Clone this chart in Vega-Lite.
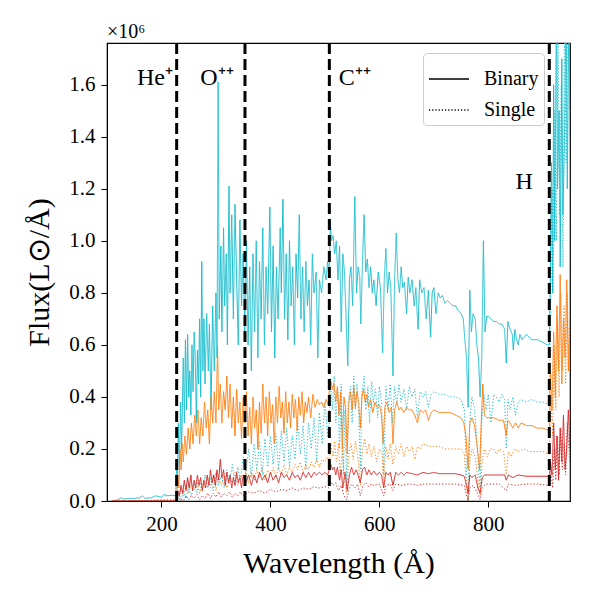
{
  "$schema": "https://vega.github.io/schema/vega-lite/v6.json",
  "width": 463,
  "height": 458,
  "autosize": "none",
  "padding": {"left": 107, "top": 43, "right": 30, "bottom": 99},
  "background": "white",
  "config": {
    "font": "Liberation Serif",
    "view": {"stroke": "black", "strokeWidth": 1.2},
    "axis": {"grid": false, "domainColor": "black", "tickColor": "black", "labelColor": "black", "titleColor": "black", "titleFontWeight": "normal", "labelFontSize": 21, "titleFontSize": 30, "tickSize": 6, "labelPadding": 6, "labelFont": "Liberation Serif", "titleFont": "Liberation Serif"}
  },
  "datasets": {
    "spec": [
      {"c":"A","t":"Binary","w":110,"f":0.0},{"c":"A","t":"Binary","w":120,"f":0.005},{"c":"A","t":"Binary","w":125,"f":0.012},{"c":"A","t":"Binary","w":130,"f":0.008},{"c":"A","t":"Binary","w":140,"f":0.01},{"c":"A","t":"Binary","w":150,"f":0.01},{"c":"A","t":"Binary","w":160,"f":0.012},{"c":"A","t":"Binary","w":165,"f":0.02},{"c":"A","t":"Binary","w":170,"f":0.01},{"c":"A","t":"Binary","w":180,"f":0.012},{"c":"A","t":"Binary","w":190,"f":0.02},{"c":"A","t":"Binary","w":200,"f":0.015},{"c":"A","t":"Binary","w":205,"f":0.025},{"c":"A","t":"Binary","w":210,"f":0.02},{"c":"A","t":"Binary","w":220,"f":0.022},{"c":"A","t":"Binary","w":226,"f":0.02},
      {"c":"A","t":"Binary","w":228,"f":0.15},{"c":"A","t":"Binary","w":229,"f":0.05},{"c":"A","t":"Binary","w":231,"f":0.3},{"c":"A","t":"Binary","w":233,"f":0.12},{"c":"A","t":"Binary","w":235,"f":0.38},{"c":"A","t":"Binary","w":237,"f":0.2},{"c":"A","t":"Binary","w":240,"f":0.55},{"c":"A","t":"Binary","w":242,"f":0.3},{"c":"A","t":"Binary","w":244,"f":0.62},{"c":"A","t":"Binary","w":246,"f":0.35},{"c":"A","t":"Binary","w":248,"f":0.64},{"c":"A","t":"Binary","w":250,"f":0.4},{"c":"A","t":"Binary","w":252,"f":0.5},{"c":"A","t":"Binary","w":254,"f":0.33},{"c":"A","t":"Binary","w":256,"f":0.6},{"c":"A","t":"Binary","w":258,"f":0.42},{"c":"A","t":"Binary","w":260,"f":0.65},{"c":"A","t":"Binary","w":262,"f":0.55},{"c":"A","t":"Binary","w":264,"f":0.3},{"c":"A","t":"Binary","w":266,"f":0.58},{"c":"A","t":"Binary","w":268,"f":0.45},{"c":"A","t":"Binary","w":270,"f":0.7},{"c":"A","t":"Binary","w":272,"f":0.4},{"c":"A","t":"Binary","w":274,"f":0.92},{"c":"A","t":"Binary","w":276,"f":0.5},{"c":"A","t":"Binary","w":278,"f":0.7},{"c":"A","t":"Binary","w":280,"f":0.45},{"c":"A","t":"Binary","w":283,"f":0.72},{"c":"A","t":"Binary","w":286,"f":0.5},{"c":"A","t":"Binary","w":288,"f":0.68},{"c":"A","t":"Binary","w":291,"f":0.35},{"c":"A","t":"Binary","w":294,"f":0.75},{"c":"A","t":"Binary","w":297,"f":0.5},{"c":"A","t":"Binary","w":300,"f":0.8},{"c":"A","t":"Binary","w":302,"f":0.55},{"c":"A","t":"Binary","w":304,"f":1.61},{"c":"A","t":"Binary","w":306,"f":0.7},{"c":"A","t":"Binary","w":309,"f":0.98},{"c":"A","t":"Binary","w":311,"f":0.65},{"c":"A","t":"Binary","w":314,"f":1.05},{"c":"A","t":"Binary","w":316,"f":0.75},{"c":"A","t":"Binary","w":319,"f":0.95},{"c":"A","t":"Binary","w":321,"f":0.6},{"c":"A","t":"Binary","w":324,"f":1.21},{"c":"A","t":"Binary","w":326,"f":0.8},{"c":"A","t":"Binary","w":329,"f":1.1},{"c":"A","t":"Binary","w":332,"f":0.7},{"c":"A","t":"Binary","w":335,"f":1.14},{"c":"A","t":"Binary","w":338,"f":0.85},{"c":"A","t":"Binary","w":341,"f":0.6},{"c":"A","t":"Binary","w":344,"f":1.08},{"c":"A","t":"Binary","w":347,"f":0.75},{"c":"A","t":"Binary","w":350,"f":0.95},{"c":"A","t":"Binary","w":353,"f":0.65},{"c":"A","t":"Binary","w":356,"f":1.0},{"c":"A","t":"Binary","w":359,"f":0.6},{"c":"A","t":"Binary","w":362,"f":0.9},{"c":"A","t":"Binary","w":365,"f":0.5},{"c":"A","t":"Binary","w":368,"f":0.95},{"c":"A","t":"Binary","w":371,"f":0.65},{"c":"A","t":"Binary","w":374,"f":1.0},{"c":"A","t":"Binary","w":377,"f":0.55},{"c":"A","t":"Binary","w":380,"f":0.92},{"c":"A","t":"Binary","w":383,"f":0.7},{"c":"A","t":"Binary","w":386,"f":1.05},{"c":"A","t":"Binary","w":389,"f":0.6},{"c":"A","t":"Binary","w":392,"f":0.9},{"c":"A","t":"Binary","w":395,"f":0.72},{"c":"A","t":"Binary","w":399,"f":1.13},{"c":"A","t":"Binary","w":402,"f":0.65},{"c":"A","t":"Binary","w":405,"f":0.98},{"c":"A","t":"Binary","w":408,"f":0.55},{"c":"A","t":"Binary","w":411,"f":0.9},{"c":"A","t":"Binary","w":414,"f":0.7},{"c":"A","t":"Binary","w":418,"f":1.05},{"c":"A","t":"Binary","w":420,"f":0.8},{"c":"A","t":"Binary","w":423,"f":1.16},{"c":"A","t":"Binary","w":426,"f":0.7},{"c":"A","t":"Binary","w":429,"f":0.95},{"c":"A","t":"Binary","w":432,"f":0.62},{"c":"A","t":"Binary","w":435,"f":1.0},{"c":"A","t":"Binary","w":438,"f":0.75},{"c":"A","t":"Binary","w":441,"f":0.9},{"c":"A","t":"Binary","w":444,"f":0.6},{"c":"A","t":"Binary","w":447,"f":0.95},{"c":"A","t":"Binary","w":450,"f":0.78},{"c":"A","t":"Binary","w":453,"f":1.1},{"c":"A","t":"Binary","w":456,"f":0.7},{"c":"A","t":"Binary","w":459,"f":0.9},{"c":"A","t":"Binary","w":462,"f":0.65},{"c":"A","t":"Binary","w":465,"f":0.92},{"c":"A","t":"Binary","w":468,"f":0.75},{"c":"A","t":"Binary","w":471,"f":0.85},{"c":"A","t":"Binary","w":474,"f":0.6},{"c":"A","t":"Binary","w":477,"f":0.95},{"c":"A","t":"Binary","w":480,"f":0.8},{"c":"A","t":"Binary","w":484,"f":0.88},{"c":"A","t":"Binary","w":487,"f":0.55},{"c":"A","t":"Binary","w":490,"f":0.85},{"c":"A","t":"Binary","w":494,"f":0.8},{"c":"A","t":"Binary","w":498,"f":0.9},{"c":"A","t":"Binary","w":502,"f":0.85},{"c":"A","t":"Binary","w":505,"f":0.92},{"c":"A","t":"Binary","w":508,"f":0.88},{"c":"A","t":"Binary","w":510,"f":1.08},{"c":"A","t":"Binary","w":512,"f":1.0},{"c":"A","t":"Binary","w":515,"f":1.02},{"c":"A","t":"Binary","w":518,"f":0.95},{"c":"A","t":"Binary","w":521,"f":1.0},{"c":"A","t":"Binary","w":524,"f":0.85},{"c":"A","t":"Binary","w":527,"f":0.98},{"c":"A","t":"Binary","w":530,"f":0.65},{"c":"A","t":"Binary","w":533,"f":0.95},{"c":"A","t":"Binary","w":536,"f":0.88},{"c":"A","t":"Binary","w":539,"f":0.7},{"c":"A","t":"Binary","w":542,"f":0.52},{"c":"A","t":"Binary","w":545,"f":0.85},{"c":"A","t":"Binary","w":548,"f":0.9},{"c":"A","t":"Binary","w":551,"f":0.75},{"c":"A","t":"Binary","w":555,"f":1.17},{"c":"A","t":"Binary","w":558,"f":0.8},{"c":"A","t":"Binary","w":561,"f":0.9},{"c":"A","t":"Binary","w":564,"f":0.86},{"c":"A","t":"Binary","w":566,"f":0.68},{"c":"A","t":"Binary","w":569,"f":0.92},{"c":"A","t":"Binary","w":572,"f":1.1},{"c":"A","t":"Binary","w":575,"f":0.88},{"c":"A","t":"Binary","w":578,"f":0.93},{"c":"A","t":"Binary","w":581,"f":0.82},{"c":"A","t":"Binary","w":584,"f":0.9},{"c":"A","t":"Binary","w":587,"f":0.8},{"c":"A","t":"Binary","w":590,"f":0.85},{"c":"A","t":"Binary","w":594,"f":0.75},{"c":"A","t":"Binary","w":598,"f":0.88},{"c":"A","t":"Binary","w":602,"f":0.82},{"c":"A","t":"Binary","w":606,"f":0.57},{"c":"A","t":"Binary","w":609,"f":0.85},{"c":"A","t":"Binary","w":612,"f":0.97},{"c":"A","t":"Binary","w":615,"f":0.8},{"c":"A","t":"Binary","w":618,"f":0.88},{"c":"A","t":"Binary","w":621,"f":0.82},{"c":"A","t":"Binary","w":625,"f":0.48},{"c":"A","t":"Binary","w":628,"f":0.85},{"c":"A","t":"Binary","w":631,"f":1.03},{"c":"A","t":"Binary","w":634,"f":0.85},{"c":"A","t":"Binary","w":637,"f":0.8},{"c":"A","t":"Binary","w":640,"f":0.9},{"c":"A","t":"Binary","w":643,"f":0.82},{"c":"A","t":"Binary","w":646,"f":0.84},{"c":"A","t":"Binary","w":650,"f":0.72},{"c":"A","t":"Binary","w":653,"f":0.86},{"c":"A","t":"Binary","w":656,"f":0.8},{"c":"A","t":"Binary","w":660,"f":0.85},{"c":"A","t":"Binary","w":664,"f":0.75},{"c":"A","t":"Binary","w":667,"f":0.82},{"c":"A","t":"Binary","w":671,"f":0.66},{"c":"A","t":"Binary","w":674,"f":0.85},{"c":"A","t":"Binary","w":678,"f":0.8},{"c":"A","t":"Binary","w":682,"f":0.82},{"c":"A","t":"Binary","w":686,"f":0.7},{"c":"A","t":"Binary","w":690,"f":0.81},{"c":"A","t":"Binary","w":694,"f":0.63},{"c":"A","t":"Binary","w":697,"f":0.8},{"c":"A","t":"Binary","w":700,"f":0.82},{"c":"A","t":"Binary","w":704,"f":0.72},{"c":"A","t":"Binary","w":708,"f":0.8},{"c":"A","t":"Binary","w":712,"f":0.78},{"c":"A","t":"Binary","w":716,"f":0.79},{"c":"A","t":"Binary","w":720,"f":0.76},{"c":"A","t":"Binary","w":725,"f":0.77},{"c":"A","t":"Binary","w":730,"f":0.76},{"c":"A","t":"Binary","w":735,"f":0.75},{"c":"A","t":"Binary","w":740,"f":0.75},{"c":"A","t":"Binary","w":745,"f":0.73},{"c":"A","t":"Binary","w":750,"f":0.72},{"c":"A","t":"Binary","w":754,"f":0.7},{"c":"A","t":"Binary","w":757,"f":0.62},{"c":"A","t":"Binary","w":760,"f":0.55},{"c":"A","t":"Binary","w":763,"f":0.36},{"c":"A","t":"Binary","w":766,"f":0.81},{"c":"A","t":"Binary","w":769,"f":0.65},{"c":"A","t":"Binary","w":772,"f":0.72},{"c":"A","t":"Binary","w":776,"f":0.7},{"c":"A","t":"Binary","w":779,"f":0.6},{"c":"A","t":"Binary","w":782,"f":0.55},{"c":"A","t":"Binary","w":785,"f":0.4},{"c":"A","t":"Binary","w":788,"f":0.55},{"c":"A","t":"Binary","w":791,"f":1.0},{"c":"A","t":"Binary","w":794,"f":0.65},{"c":"A","t":"Binary","w":797,"f":0.71},{"c":"A","t":"Binary","w":800,"f":0.71},{"c":"A","t":"Binary","w":805,"f":0.7},{"c":"A","t":"Binary","w":810,"f":0.69},{"c":"A","t":"Binary","w":815,"f":0.69},{"c":"A","t":"Binary","w":820,"f":0.68},{"c":"A","t":"Binary","w":825,"f":0.68},{"c":"A","t":"Binary","w":830,"f":0.66},{"c":"A","t":"Binary","w":833,"f":0.53},{"c":"A","t":"Binary","w":836,"f":0.69},{"c":"A","t":"Binary","w":840,"f":0.66},{"c":"A","t":"Binary","w":844,"f":0.64},{"c":"A","t":"Binary","w":846,"f":0.58},{"c":"A","t":"Binary","w":849,"f":0.66},{"c":"A","t":"Binary","w":852,"f":0.62},{"c":"A","t":"Binary","w":855,"f":0.6},{"c":"A","t":"Binary","w":858,"f":0.64},{"c":"A","t":"Binary","w":862,"f":0.62},{"c":"A","t":"Binary","w":866,"f":0.63},{"c":"A","t":"Binary","w":870,"f":0.64},{"c":"A","t":"Binary","w":875,"f":0.63},{"c":"A","t":"Binary","w":880,"f":0.62},{"c":"A","t":"Binary","w":890,"f":0.62},{"c":"A","t":"Binary","w":900,"f":0.61},{"c":"A","t":"Binary","w":908,"f":0.6},{"c":"A","t":"Binary","w":912,"f":0.6},{"c":"A","t":"Binary","w":914,"f":0.9},{"c":"A","t":"Binary","w":916,"f":1.3},{"c":"A","t":"Binary","w":918,"f":0.8},{"c":"A","t":"Binary","w":920,"f":1.6},{"c":"A","t":"Binary","w":922,"f":1.0},{"c":"A","t":"Binary","w":925,"f":1.9},{"c":"A","t":"Binary","w":927,"f":1.2},{"c":"A","t":"Binary","w":930,"f":1.5},{"c":"A","t":"Binary","w":932,"f":0.9},{"c":"A","t":"Binary","w":935,"f":1.7},{"c":"A","t":"Binary","w":937,"f":1.1},{"c":"A","t":"Binary","w":940,"f":1.4},{"c":"A","t":"Binary","w":943,"f":1.9},{"c":"A","t":"Binary","w":945,"f":1.2},{"c":"A","t":"Binary","w":948,"f":1.9},{"c":"A","t":"Binary","w":950,"f":1.5},

      {"c":"A","t":"Single","w":110,"f":0.0},{"c":"A","t":"Single","w":150,"f":0.0},{"c":"A","t":"Single","w":200,"f":0.005},{"c":"A","t":"Single","w":226,"f":0.005},{"c":"A","t":"Single","w":228,"f":0.01},{"c":"A","t":"Single","w":232,"f":0.03},{"c":"A","t":"Single","w":236,"f":0.0},{"c":"A","t":"Single","w":240,"f":0.04},{"c":"A","t":"Single","w":245,"f":0.01},{"c":"A","t":"Single","w":250,"f":0.05},{"c":"A","t":"Single","w":255,"f":0.02},{"c":"A","t":"Single","w":260,"f":0.07},{"c":"A","t":"Single","w":265,"f":0.03},{"c":"A","t":"Single","w":270,"f":0.08},{"c":"A","t":"Single","w":275,"f":0.04},{"c":"A","t":"Single","w":280,"f":0.1},{"c":"A","t":"Single","w":285,"f":0.05},{"c":"A","t":"Single","w":290,"f":0.09},{"c":"A","t":"Single","w":295,"f":0.04},{"c":"A","t":"Single","w":300,"f":0.11},{"c":"A","t":"Single","w":305,"f":0.06},{"c":"A","t":"Single","w":310,"f":0.1},{"c":"A","t":"Single","w":315,"f":0.05},{"c":"A","t":"Single","w":320,"f":0.12},{"c":"A","t":"Single","w":325,"f":0.07},{"c":"A","t":"Single","w":330,"f":0.14},{"c":"A","t":"Single","w":335,"f":0.06},{"c":"A","t":"Single","w":340,"f":0.13},{"c":"A","t":"Single","w":345,"f":0.08},{"c":"A","t":"Single","w":350,"f":0.17},{"c":"A","t":"Single","w":355,"f":0.1},{"c":"A","t":"Single","w":360,"f":0.2},{"c":"A","t":"Single","w":365,"f":0.09},{"c":"A","t":"Single","w":370,"f":0.22},{"c":"A","t":"Single","w":375,"f":0.12},{"c":"A","t":"Single","w":380,"f":0.23},{"c":"A","t":"Single","w":385,"f":0.1},{"c":"A","t":"Single","w":390,"f":0.24},{"c":"A","t":"Single","w":395,"f":0.13},{"c":"A","t":"Single","w":400,"f":0.25},{"c":"A","t":"Single","w":405,"f":0.14},{"c":"A","t":"Single","w":410,"f":0.26},{"c":"A","t":"Single","w":415,"f":0.12},{"c":"A","t":"Single","w":420,"f":0.27},{"c":"A","t":"Single","w":425,"f":0.15},{"c":"A","t":"Single","w":430,"f":0.28},{"c":"A","t":"Single","w":435,"f":0.13},{"c":"A","t":"Single","w":440,"f":0.25},{"c":"A","t":"Single","w":445,"f":0.16},{"c":"A","t":"Single","w":450,"f":0.3},{"c":"A","t":"Single","w":455,"f":0.18},{"c":"A","t":"Single","w":460,"f":0.29},{"c":"A","t":"Single","w":465,"f":0.12},{"c":"A","t":"Single","w":470,"f":0.3},{"c":"A","t":"Single","w":475,"f":0.2},{"c":"A","t":"Single","w":480,"f":0.32},{"c":"A","t":"Single","w":485,"f":0.15},{"c":"A","t":"Single","w":490,"f":0.34},{"c":"A","t":"Single","w":495,"f":0.22},{"c":"A","t":"Single","w":500,"f":0.38},{"c":"A","t":"Single","w":505,"f":0.25},{"c":"A","t":"Single","w":508,"f":0.3},{"c":"A","t":"Single","w":510,"f":0.47},{"c":"A","t":"Single","w":514,"f":0.35},{"c":"A","t":"Single","w":517,"f":0.48},{"c":"A","t":"Single","w":520,"f":0.3},{"c":"A","t":"Single","w":524,"f":0.42},{"c":"A","t":"Single","w":527,"f":0.2},{"c":"A","t":"Single","w":530,"f":0.45},{"c":"A","t":"Single","w":534,"f":0.1},{"c":"A","t":"Single","w":537,"f":0.35},{"c":"A","t":"Single","w":540,"f":0.05},{"c":"A","t":"Single","w":543,"f":0.38},{"c":"A","t":"Single","w":547,"f":0.44},{"c":"A","t":"Single","w":550,"f":0.3},{"c":"A","t":"Single","w":553,"f":0.48},{"c":"A","t":"Single","w":556,"f":0.35},{"c":"A","t":"Single","w":559,"f":0.45},{"c":"A","t":"Single","w":562,"f":0.36},{"c":"A","t":"Single","w":565,"f":0.12},{"c":"A","t":"Single","w":568,"f":0.42},{"c":"A","t":"Single","w":572,"f":0.48},{"c":"A","t":"Single","w":575,"f":0.35},{"c":"A","t":"Single","w":579,"f":0.44},{"c":"A","t":"Single","w":582,"f":0.3},{"c":"A","t":"Single","w":586,"f":0.46},{"c":"A","t":"Single","w":589,"f":0.38},{"c":"A","t":"Single","w":593,"f":0.43},{"c":"A","t":"Single","w":597,"f":0.32},{"c":"A","t":"Single","w":600,"f":0.44},{"c":"A","t":"Single","w":604,"f":0.38},{"c":"A","t":"Single","w":608,"f":0.1},{"c":"A","t":"Single","w":612,"f":0.44},{"c":"A","t":"Single","w":616,"f":0.35},{"c":"A","t":"Single","w":620,"f":0.45},{"c":"A","t":"Single","w":624,"f":0.3},{"c":"A","t":"Single","w":628,"f":0.44},{"c":"A","t":"Single","w":632,"f":0.37},{"c":"A","t":"Single","w":636,"f":0.45},{"c":"A","t":"Single","w":640,"f":0.38},{"c":"A","t":"Single","w":645,"f":0.43},{"c":"A","t":"Single","w":650,"f":0.35},{"c":"A","t":"Single","w":655,"f":0.44},{"c":"A","t":"Single","w":660,"f":0.4},{"c":"A","t":"Single","w":665,"f":0.43},{"c":"A","t":"Single","w":670,"f":0.32},{"c":"A","t":"Single","w":675,"f":0.42},{"c":"A","t":"Single","w":680,"f":0.4},{"c":"A","t":"Single","w":685,"f":0.42},{"c":"A","t":"Single","w":690,"f":0.36},{"c":"A","t":"Single","w":695,"f":0.41},{"c":"A","t":"Single","w":700,"f":0.42},{"c":"A","t":"Single","w":710,"f":0.41},{"c":"A","t":"Single","w":720,"f":0.41},{"c":"A","t":"Single","w":730,"f":0.4},{"c":"A","t":"Single","w":740,"f":0.4},{"c":"A","t":"Single","w":750,"f":0.39},{"c":"A","t":"Single","w":756,"f":0.35},{"c":"A","t":"Single","w":760,"f":0.1},{"c":"A","t":"Single","w":763,"f":0.0},{"c":"A","t":"Single","w":766,"f":0.3},{"c":"A","t":"Single","w":770,"f":0.4},{"c":"A","t":"Single","w":775,"f":0.35},{"c":"A","t":"Single","w":780,"f":0.2},{"c":"A","t":"Single","w":785,"f":0.05},{"c":"A","t":"Single","w":788,"f":0.3},{"c":"A","t":"Single","w":792,"f":0.41},{"c":"A","t":"Single","w":796,"f":0.35},{"c":"A","t":"Single","w":800,"f":0.41},{"c":"A","t":"Single","w":805,"f":0.3},{"c":"A","t":"Single","w":810,"f":0.41},{"c":"A","t":"Single","w":815,"f":0.4},{"c":"A","t":"Single","w":820,"f":0.38},{"c":"A","t":"Single","w":825,"f":0.41},{"c":"A","t":"Single","w":830,"f":0.39},{"c":"A","t":"Single","w":833,"f":0.2},{"c":"A","t":"Single","w":836,"f":0.39},{"c":"A","t":"Single","w":840,"f":0.35},{"c":"A","t":"Single","w":845,"f":0.4},{"c":"A","t":"Single","w":850,"f":0.33},{"c":"A","t":"Single","w":855,"f":0.38},{"c":"A","t":"Single","w":860,"f":0.39},{"c":"A","t":"Single","w":870,"f":0.38},{"c":"A","t":"Single","w":880,"f":0.39},{"c":"A","t":"Single","w":890,"f":0.38},{"c":"A","t":"Single","w":900,"f":0.38},{"c":"A","t":"Single","w":912,"f":0.37},{"c":"A","t":"Single","w":914,"f":0.7},{"c":"A","t":"Single","w":917,"f":1.2},{"c":"A","t":"Single","w":919,"f":0.8},{"c":"A","t":"Single","w":922,"f":1.5},{"c":"A","t":"Single","w":925,"f":1.0},{"c":"A","t":"Single","w":928,"f":1.8},{"c":"A","t":"Single","w":931,"f":1.1},{"c":"A","t":"Single","w":934,"f":1.6},{"c":"A","t":"Single","w":937,"f":0.9},{"c":"A","t":"Single","w":940,"f":1.8},{"c":"A","t":"Single","w":943,"f":1.3},{"c":"A","t":"Single","w":946,"f":1.9},{"c":"A","t":"Single","w":950,"f":1.4},

      {"c":"B","t":"Binary","w":110,"f":0.0},{"c":"B","t":"Binary","w":226,"f":0.0},{"c":"B","t":"Binary","w":228,"f":0.02},{"c":"B","t":"Binary","w":230,"f":0.1},{"c":"B","t":"Binary","w":232,"f":0.05},{"c":"B","t":"Binary","w":234,"f":0.2},{"c":"B","t":"Binary","w":236,"f":0.12},{"c":"B","t":"Binary","w":238,"f":0.22},{"c":"B","t":"Binary","w":240,"f":0.15},{"c":"B","t":"Binary","w":243,"f":0.25},{"c":"B","t":"Binary","w":246,"f":0.18},{"c":"B","t":"Binary","w":249,"f":0.28},{"c":"B","t":"Binary","w":252,"f":0.2},{"c":"B","t":"Binary","w":255,"f":0.3},{"c":"B","t":"Binary","w":258,"f":0.22},{"c":"B","t":"Binary","w":261,"f":0.33},{"c":"B","t":"Binary","w":264,"f":0.25},{"c":"B","t":"Binary","w":267,"f":0.35},{"c":"B","t":"Binary","w":270,"f":0.22},{"c":"B","t":"Binary","w":273,"f":0.32},{"c":"B","t":"Binary","w":276,"f":0.25},{"c":"B","t":"Binary","w":279,"f":0.38},{"c":"B","t":"Binary","w":282,"f":0.28},{"c":"B","t":"Binary","w":285,"f":0.35},{"c":"B","t":"Binary","w":288,"f":0.22},{"c":"B","t":"Binary","w":291,"f":0.4},{"c":"B","t":"Binary","w":294,"f":0.3},{"c":"B","t":"Binary","w":297,"f":0.42},{"c":"B","t":"Binary","w":300,"f":0.3},{"c":"B","t":"Binary","w":303,"f":0.59},{"c":"B","t":"Binary","w":305,"f":0.35},{"c":"B","t":"Binary","w":308,"f":0.45},{"c":"B","t":"Binary","w":311,"f":0.3},{"c":"B","t":"Binary","w":314,"f":0.42},{"c":"B","t":"Binary","w":317,"f":0.35},{"c":"B","t":"Binary","w":320,"f":0.48},{"c":"B","t":"Binary","w":323,"f":0.32},{"c":"B","t":"Binary","w":326,"f":0.45},{"c":"B","t":"Binary","w":329,"f":0.28},{"c":"B","t":"Binary","w":332,"f":0.4},{"c":"B","t":"Binary","w":335,"f":0.25},{"c":"B","t":"Binary","w":338,"f":0.43},{"c":"B","t":"Binary","w":341,"f":0.3},{"c":"B","t":"Binary","w":344,"f":0.38},{"c":"B","t":"Binary","w":347,"f":0.24},{"c":"B","t":"Binary","w":350,"f":0.4},{"c":"B","t":"Binary","w":353,"f":0.3},{"c":"B","t":"Binary","w":356,"f":0.42},{"c":"B","t":"Binary","w":359,"f":0.25},{"c":"B","t":"Binary","w":362,"f":0.36},{"c":"B","t":"Binary","w":365,"f":0.22},{"c":"B","t":"Binary","w":368,"f":0.4},{"c":"B","t":"Binary","w":371,"f":0.28},{"c":"B","t":"Binary","w":374,"f":0.35},{"c":"B","t":"Binary","w":377,"f":0.2},{"c":"B","t":"Binary","w":380,"f":0.38},{"c":"B","t":"Binary","w":383,"f":0.26},{"c":"B","t":"Binary","w":386,"f":0.45},{"c":"B","t":"Binary","w":389,"f":0.3},{"c":"B","t":"Binary","w":392,"f":0.4},{"c":"B","t":"Binary","w":395,"f":0.25},{"c":"B","t":"Binary","w":398,"f":0.42},{"c":"B","t":"Binary","w":401,"f":0.3},{"c":"B","t":"Binary","w":404,"f":0.37},{"c":"B","t":"Binary","w":407,"f":0.22},{"c":"B","t":"Binary","w":410,"f":0.4},{"c":"B","t":"Binary","w":413,"f":0.3},{"c":"B","t":"Binary","w":416,"f":0.44},{"c":"B","t":"Binary","w":419,"f":0.32},{"c":"B","t":"Binary","w":422,"f":0.38},{"c":"B","t":"Binary","w":425,"f":0.26},{"c":"B","t":"Binary","w":428,"f":0.42},{"c":"B","t":"Binary","w":431,"f":0.3},{"c":"B","t":"Binary","w":434,"f":0.38},{"c":"B","t":"Binary","w":437,"f":0.28},{"c":"B","t":"Binary","w":440,"f":0.41},{"c":"B","t":"Binary","w":443,"f":0.32},{"c":"B","t":"Binary","w":446,"f":0.39},{"c":"B","t":"Binary","w":449,"f":0.27},{"c":"B","t":"Binary","w":452,"f":0.4},{"c":"B","t":"Binary","w":455,"f":0.33},{"c":"B","t":"Binary","w":458,"f":0.42},{"c":"B","t":"Binary","w":461,"f":0.3},{"c":"B","t":"Binary","w":464,"f":0.38},{"c":"B","t":"Binary","w":467,"f":0.34},{"c":"B","t":"Binary","w":470,"f":0.4},{"c":"B","t":"Binary","w":474,"f":0.32},{"c":"B","t":"Binary","w":478,"f":0.41},{"c":"B","t":"Binary","w":482,"f":0.36},{"c":"B","t":"Binary","w":486,"f":0.39},{"c":"B","t":"Binary","w":490,"f":0.37},{"c":"B","t":"Binary","w":494,"f":0.38},{"c":"B","t":"Binary","w":498,"f":0.36},{"c":"B","t":"Binary","w":502,"f":0.39},{"c":"B","t":"Binary","w":506,"f":0.37},{"c":"B","t":"Binary","w":508,"f":0.42},{"c":"B","t":"Binary","w":511,"f":0.46},{"c":"B","t":"Binary","w":514,"f":0.43},{"c":"B","t":"Binary","w":517,"f":0.45},{"c":"B","t":"Binary","w":520,"f":0.38},{"c":"B","t":"Binary","w":523,"f":0.44},{"c":"B","t":"Binary","w":526,"f":0.33},{"c":"B","t":"Binary","w":529,"f":0.42},{"c":"B","t":"Binary","w":532,"f":0.2},{"c":"B","t":"Binary","w":535,"f":0.4},{"c":"B","t":"Binary","w":538,"f":0.36},{"c":"B","t":"Binary","w":541,"f":0.18},{"c":"B","t":"Binary","w":544,"f":0.38},{"c":"B","t":"Binary","w":547,"f":0.42},{"c":"B","t":"Binary","w":550,"f":0.35},{"c":"B","t":"Binary","w":553,"f":0.44},{"c":"B","t":"Binary","w":556,"f":0.36},{"c":"B","t":"Binary","w":559,"f":0.42},{"c":"B","t":"Binary","w":562,"f":0.38},{"c":"B","t":"Binary","w":565,"f":0.28},{"c":"B","t":"Binary","w":568,"f":0.4},{"c":"B","t":"Binary","w":571,"f":0.43},{"c":"B","t":"Binary","w":574,"f":0.38},{"c":"B","t":"Binary","w":577,"f":0.41},{"c":"B","t":"Binary","w":580,"f":0.36},{"c":"B","t":"Binary","w":584,"f":0.39},{"c":"B","t":"Binary","w":588,"f":0.34},{"c":"B","t":"Binary","w":592,"f":0.38},{"c":"B","t":"Binary","w":596,"f":0.36},{"c":"B","t":"Binary","w":600,"f":0.37},{"c":"B","t":"Binary","w":604,"f":0.33},{"c":"B","t":"Binary","w":607,"f":0.22},{"c":"B","t":"Binary","w":610,"f":0.36},{"c":"B","t":"Binary","w":614,"f":0.38},{"c":"B","t":"Binary","w":618,"f":0.34},{"c":"B","t":"Binary","w":622,"f":0.36},{"c":"B","t":"Binary","w":625,"f":0.22},{"c":"B","t":"Binary","w":628,"f":0.35},{"c":"B","t":"Binary","w":632,"f":0.38},{"c":"B","t":"Binary","w":636,"f":0.35},{"c":"B","t":"Binary","w":640,"f":0.36},{"c":"B","t":"Binary","w":645,"f":0.34},{"c":"B","t":"Binary","w":650,"f":0.36},{"c":"B","t":"Binary","w":655,"f":0.35},{"c":"B","t":"Binary","w":660,"f":0.35},{"c":"B","t":"Binary","w":665,"f":0.33},{"c":"B","t":"Binary","w":670,"f":0.3},{"c":"B","t":"Binary","w":675,"f":0.35},{"c":"B","t":"Binary","w":680,"f":0.34},{"c":"B","t":"Binary","w":685,"f":0.35},{"c":"B","t":"Binary","w":690,"f":0.31},{"c":"B","t":"Binary","w":695,"f":0.34},{"c":"B","t":"Binary","w":700,"f":0.35},{"c":"B","t":"Binary","w":710,"f":0.34},{"c":"B","t":"Binary","w":720,"f":0.34},{"c":"B","t":"Binary","w":730,"f":0.34},{"c":"B","t":"Binary","w":740,"f":0.33},{"c":"B","t":"Binary","w":750,"f":0.32},{"c":"B","t":"Binary","w":755,"f":0.3},{"c":"B","t":"Binary","w":759,"f":0.25},{"c":"B","t":"Binary","w":763,"f":0.12},{"c":"B","t":"Binary","w":766,"f":0.3},{"c":"B","t":"Binary","w":770,"f":0.32},{"c":"B","t":"Binary","w":775,"f":0.29},{"c":"B","t":"Binary","w":780,"f":0.2},{"c":"B","t":"Binary","w":784,"f":0.12},{"c":"B","t":"Binary","w":787,"f":0.3},{"c":"B","t":"Binary","w":790,"f":0.45},{"c":"B","t":"Binary","w":793,"f":0.33},{"c":"B","t":"Binary","w":797,"f":0.32},{"c":"B","t":"Binary","w":803,"f":0.32},{"c":"B","t":"Binary","w":810,"f":0.32},{"c":"B","t":"Binary","w":820,"f":0.31},{"c":"B","t":"Binary","w":828,"f":0.31},{"c":"B","t":"Binary","w":833,"f":0.25},{"c":"B","t":"Binary","w":836,"f":0.31},{"c":"B","t":"Binary","w":840,"f":0.3},{"c":"B","t":"Binary","w":845,"f":0.28},{"c":"B","t":"Binary","w":850,"f":0.3},{"c":"B","t":"Binary","w":855,"f":0.28},{"c":"B","t":"Binary","w":860,"f":0.3},{"c":"B","t":"Binary","w":870,"f":0.29},{"c":"B","t":"Binary","w":880,"f":0.29},{"c":"B","t":"Binary","w":890,"f":0.28},{"c":"B","t":"Binary","w":900,"f":0.28},{"c":"B","t":"Binary","w":912,"f":0.27},{"c":"B","t":"Binary","w":914,"f":0.5},{"c":"B","t":"Binary","w":917,"f":0.35},{"c":"B","t":"Binary","w":920,"f":0.65},{"c":"B","t":"Binary","w":923,"f":0.4},{"c":"B","t":"Binary","w":926,"f":0.75},{"c":"B","t":"Binary","w":929,"f":0.5},{"c":"B","t":"Binary","w":932,"f":0.87},{"c":"B","t":"Binary","w":935,"f":0.45},{"c":"B","t":"Binary","w":938,"f":0.7},{"c":"B","t":"Binary","w":941,"f":0.55},{"c":"B","t":"Binary","w":944,"f":0.85},{"c":"B","t":"Binary","w":947,"f":0.5},{"c":"B","t":"Binary","w":950,"f":0.7},

      {"c":"B","t":"Single","w":110,"f":0.0},{"c":"B","t":"Single","w":228,"f":0.0},{"c":"B","t":"Single","w":232,"f":0.02},{"c":"B","t":"Single","w":236,"f":0.05},{"c":"B","t":"Single","w":240,"f":0.02},{"c":"B","t":"Single","w":245,"f":0.06},{"c":"B","t":"Single","w":250,"f":0.03},{"c":"B","t":"Single","w":255,"f":0.07},{"c":"B","t":"Single","w":260,"f":0.04},{"c":"B","t":"Single","w":265,"f":0.08},{"c":"B","t":"Single","w":270,"f":0.03},{"c":"B","t":"Single","w":275,"f":0.07},{"c":"B","t":"Single","w":280,"f":0.05},{"c":"B","t":"Single","w":285,"f":0.09},{"c":"B","t":"Single","w":290,"f":0.05},{"c":"B","t":"Single","w":295,"f":0.1},{"c":"B","t":"Single","w":300,"f":0.04},{"c":"B","t":"Single","w":305,"f":0.09},{"c":"B","t":"Single","w":310,"f":0.06},{"c":"B","t":"Single","w":315,"f":0.1},{"c":"B","t":"Single","w":320,"f":0.05},{"c":"B","t":"Single","w":325,"f":0.09},{"c":"B","t":"Single","w":330,"f":0.07},{"c":"B","t":"Single","w":335,"f":0.11},{"c":"B","t":"Single","w":340,"f":0.06},{"c":"B","t":"Single","w":345,"f":0.1},{"c":"B","t":"Single","w":350,"f":0.08},{"c":"B","t":"Single","w":355,"f":0.12},{"c":"B","t":"Single","w":360,"f":0.07},{"c":"B","t":"Single","w":365,"f":0.11},{"c":"B","t":"Single","w":370,"f":0.08},{"c":"B","t":"Single","w":375,"f":0.12},{"c":"B","t":"Single","w":380,"f":0.09},{"c":"B","t":"Single","w":385,"f":0.13},{"c":"B","t":"Single","w":390,"f":0.08},{"c":"B","t":"Single","w":395,"f":0.12},{"c":"B","t":"Single","w":400,"f":0.1},{"c":"B","t":"Single","w":405,"f":0.13},{"c":"B","t":"Single","w":410,"f":0.09},{"c":"B","t":"Single","w":415,"f":0.13},{"c":"B","t":"Single","w":420,"f":0.1},{"c":"B","t":"Single","w":425,"f":0.14},{"c":"B","t":"Single","w":430,"f":0.1},{"c":"B","t":"Single","w":435,"f":0.13},{"c":"B","t":"Single","w":440,"f":0.11},{"c":"B","t":"Single","w":445,"f":0.14},{"c":"B","t":"Single","w":450,"f":0.12},{"c":"B","t":"Single","w":455,"f":0.15},{"c":"B","t":"Single","w":460,"f":0.11},{"c":"B","t":"Single","w":465,"f":0.14},{"c":"B","t":"Single","w":470,"f":0.12},{"c":"B","t":"Single","w":475,"f":0.15},{"c":"B","t":"Single","w":480,"f":0.13},{"c":"B","t":"Single","w":485,"f":0.16},{"c":"B","t":"Single","w":490,"f":0.13},{"c":"B","t":"Single","w":495,"f":0.16},{"c":"B","t":"Single","w":500,"f":0.15},{"c":"B","t":"Single","w":505,"f":0.17},{"c":"B","t":"Single","w":508,"f":0.14},{"c":"B","t":"Single","w":511,"f":0.22},{"c":"B","t":"Single","w":515,"f":0.17},{"c":"B","t":"Single","w":518,"f":0.23},{"c":"B","t":"Single","w":521,"f":0.15},{"c":"B","t":"Single","w":525,"f":0.22},{"c":"B","t":"Single","w":528,"f":0.1},{"c":"B","t":"Single","w":532,"f":0.2},{"c":"B","t":"Single","w":536,"f":0.08},{"c":"B","t":"Single","w":540,"f":0.03},{"c":"B","t":"Single","w":544,"f":0.18},{"c":"B","t":"Single","w":548,"f":0.22},{"c":"B","t":"Single","w":552,"f":0.16},{"c":"B","t":"Single","w":556,"f":0.23},{"c":"B","t":"Single","w":560,"f":0.18},{"c":"B","t":"Single","w":565,"f":0.06},{"c":"B","t":"Single","w":569,"f":0.2},{"c":"B","t":"Single","w":573,"f":0.24},{"c":"B","t":"Single","w":577,"f":0.18},{"c":"B","t":"Single","w":581,"f":0.22},{"c":"B","t":"Single","w":585,"f":0.17},{"c":"B","t":"Single","w":590,"f":0.21},{"c":"B","t":"Single","w":595,"f":0.15},{"c":"B","t":"Single","w":600,"f":0.2},{"c":"B","t":"Single","w":605,"f":0.18},{"c":"B","t":"Single","w":608,"f":0.05},{"c":"B","t":"Single","w":612,"f":0.21},{"c":"B","t":"Single","w":616,"f":0.16},{"c":"B","t":"Single","w":620,"f":0.22},{"c":"B","t":"Single","w":625,"f":0.14},{"c":"B","t":"Single","w":630,"f":0.21},{"c":"B","t":"Single","w":635,"f":0.18},{"c":"B","t":"Single","w":640,"f":0.22},{"c":"B","t":"Single","w":645,"f":0.17},{"c":"B","t":"Single","w":650,"f":0.21},{"c":"B","t":"Single","w":655,"f":0.19},{"c":"B","t":"Single","w":660,"f":0.21},{"c":"B","t":"Single","w":665,"f":0.16},{"c":"B","t":"Single","w":670,"f":0.21},{"c":"B","t":"Single","w":675,"f":0.2},{"c":"B","t":"Single","w":680,"f":0.22},{"c":"B","t":"Single","w":690,"f":0.21},{"c":"B","t":"Single","w":700,"f":0.21},{"c":"B","t":"Single","w":710,"f":0.21},{"c":"B","t":"Single","w":720,"f":0.2},{"c":"B","t":"Single","w":730,"f":0.2},{"c":"B","t":"Single","w":740,"f":0.2},{"c":"B","t":"Single","w":750,"f":0.2},{"c":"B","t":"Single","w":756,"f":0.18},{"c":"B","t":"Single","w":760,"f":0.05},{"c":"B","t":"Single","w":763,"f":0.0},{"c":"B","t":"Single","w":766,"f":0.15},{"c":"B","t":"Single","w":770,"f":0.2},{"c":"B","t":"Single","w":776,"f":0.17},{"c":"B","t":"Single","w":781,"f":0.08},{"c":"B","t":"Single","w":785,"f":0.02},{"c":"B","t":"Single","w":789,"f":0.15},{"c":"B","t":"Single","w":793,"f":0.2},{"c":"B","t":"Single","w":798,"f":0.17},{"c":"B","t":"Single","w":803,"f":0.2},{"c":"B","t":"Single","w":810,"f":0.2},{"c":"B","t":"Single","w":815,"f":0.18},{"c":"B","t":"Single","w":820,"f":0.2},{"c":"B","t":"Single","w":828,"f":0.19},{"c":"B","t":"Single","w":833,"f":0.1},{"c":"B","t":"Single","w":837,"f":0.19},{"c":"B","t":"Single","w":842,"f":0.17},{"c":"B","t":"Single","w":848,"f":0.2},{"c":"B","t":"Single","w":855,"f":0.19},{"c":"B","t":"Single","w":865,"f":0.2},{"c":"B","t":"Single","w":875,"f":0.19},{"c":"B","t":"Single","w":890,"f":0.19},{"c":"B","t":"Single","w":900,"f":0.19},{"c":"B","t":"Single","w":912,"f":0.18},{"c":"B","t":"Single","w":915,"f":0.4},{"c":"B","t":"Single","w":918,"f":0.25},{"c":"B","t":"Single","w":921,"f":0.6},{"c":"B","t":"Single","w":924,"f":0.35},{"c":"B","t":"Single","w":927,"f":0.7},{"c":"B","t":"Single","w":930,"f":0.4},{"c":"B","t":"Single","w":933,"f":0.8},{"c":"B","t":"Single","w":936,"f":0.5},{"c":"B","t":"Single","w":939,"f":0.75},{"c":"B","t":"Single","w":942,"f":0.45},{"c":"B","t":"Single","w":945,"f":0.8},{"c":"B","t":"Single","w":948,"f":0.5},{"c":"B","t":"Single","w":950,"f":0.65},

      {"c":"C","t":"Binary","w":110,"f":0.0},{"c":"C","t":"Binary","w":228,"f":0.0},{"c":"C","t":"Binary","w":230,"f":0.04},{"c":"C","t":"Binary","w":233,"f":0.02},{"c":"C","t":"Binary","w":236,"f":0.06},{"c":"C","t":"Binary","w":239,"f":0.03},{"c":"C","t":"Binary","w":242,"f":0.08},{"c":"C","t":"Binary","w":245,"f":0.04},{"c":"C","t":"Binary","w":248,"f":0.09},{"c":"C","t":"Binary","w":251,"f":0.05},{"c":"C","t":"Binary","w":254,"f":0.1},{"c":"C","t":"Binary","w":257,"f":0.04},{"c":"C","t":"Binary","w":260,"f":0.08},{"c":"C","t":"Binary","w":263,"f":0.05},{"c":"C","t":"Binary","w":266,"f":0.1},{"c":"C","t":"Binary","w":269,"f":0.06},{"c":"C","t":"Binary","w":272,"f":0.09},{"c":"C","t":"Binary","w":275,"f":0.04},{"c":"C","t":"Binary","w":278,"f":0.08},{"c":"C","t":"Binary","w":281,"f":0.05},{"c":"C","t":"Binary","w":284,"f":0.1},{"c":"C","t":"Binary","w":287,"f":0.06},{"c":"C","t":"Binary","w":290,"f":0.12},{"c":"C","t":"Binary","w":293,"f":0.07},{"c":"C","t":"Binary","w":296,"f":0.1},{"c":"C","t":"Binary","w":299,"f":0.06},{"c":"C","t":"Binary","w":302,"f":0.12},{"c":"C","t":"Binary","w":305,"f":0.08},{"c":"C","t":"Binary","w":308,"f":0.16},{"c":"C","t":"Binary","w":311,"f":0.09},{"c":"C","t":"Binary","w":314,"f":0.12},{"c":"C","t":"Binary","w":317,"f":0.06},{"c":"C","t":"Binary","w":320,"f":0.11},{"c":"C","t":"Binary","w":323,"f":0.07},{"c":"C","t":"Binary","w":326,"f":0.1},{"c":"C","t":"Binary","w":329,"f":0.05},{"c":"C","t":"Binary","w":332,"f":0.09},{"c":"C","t":"Binary","w":335,"f":0.06},{"c":"C","t":"Binary","w":338,"f":0.11},{"c":"C","t":"Binary","w":341,"f":0.07},{"c":"C","t":"Binary","w":344,"f":0.09},{"c":"C","t":"Binary","w":347,"f":0.05},{"c":"C","t":"Binary","w":350,"f":0.1},{"c":"C","t":"Binary","w":355,"f":0.07},{"c":"C","t":"Binary","w":360,"f":0.1},{"c":"C","t":"Binary","w":365,"f":0.06},{"c":"C","t":"Binary","w":370,"f":0.1},{"c":"C","t":"Binary","w":375,"f":0.07},{"c":"C","t":"Binary","w":380,"f":0.11},{"c":"C","t":"Binary","w":385,"f":0.08},{"c":"C","t":"Binary","w":390,"f":0.1},{"c":"C","t":"Binary","w":395,"f":0.07},{"c":"C","t":"Binary","w":400,"f":0.11},{"c":"C","t":"Binary","w":405,"f":0.08},{"c":"C","t":"Binary","w":410,"f":0.1},{"c":"C","t":"Binary","w":415,"f":0.07},{"c":"C","t":"Binary","w":420,"f":0.11},{"c":"C","t":"Binary","w":425,"f":0.09},{"c":"C","t":"Binary","w":430,"f":0.1},{"c":"C","t":"Binary","w":435,"f":0.08},{"c":"C","t":"Binary","w":440,"f":0.11},{"c":"C","t":"Binary","w":445,"f":0.09},{"c":"C","t":"Binary","w":450,"f":0.1},{"c":"C","t":"Binary","w":455,"f":0.08},{"c":"C","t":"Binary","w":460,"f":0.11},{"c":"C","t":"Binary","w":465,"f":0.09},{"c":"C","t":"Binary","w":470,"f":0.11},{"c":"C","t":"Binary","w":475,"f":0.09},{"c":"C","t":"Binary","w":480,"f":0.11},{"c":"C","t":"Binary","w":485,"f":0.1},{"c":"C","t":"Binary","w":490,"f":0.11},{"c":"C","t":"Binary","w":495,"f":0.1},{"c":"C","t":"Binary","w":500,"f":0.11},{"c":"C","t":"Binary","w":505,"f":0.1},{"c":"C","t":"Binary","w":508,"f":0.12},{"c":"C","t":"Binary","w":511,"f":0.14},{"c":"C","t":"Binary","w":514,"f":0.12},{"c":"C","t":"Binary","w":517,"f":0.13},{"c":"C","t":"Binary","w":520,"f":0.1},{"c":"C","t":"Binary","w":523,"f":0.13},{"c":"C","t":"Binary","w":527,"f":0.08},{"c":"C","t":"Binary","w":530,"f":0.12},{"c":"C","t":"Binary","w":533,"f":0.05},{"c":"C","t":"Binary","w":537,"f":0.11},{"c":"C","t":"Binary","w":541,"f":0.04},{"c":"C","t":"Binary","w":545,"f":0.1},{"c":"C","t":"Binary","w":549,"f":0.13},{"c":"C","t":"Binary","w":553,"f":0.1},{"c":"C","t":"Binary","w":557,"f":0.12},{"c":"C","t":"Binary","w":561,"f":0.1},{"c":"C","t":"Binary","w":565,"f":0.07},{"c":"C","t":"Binary","w":569,"f":0.12},{"c":"C","t":"Binary","w":573,"f":0.13},{"c":"C","t":"Binary","w":577,"f":0.1},{"c":"C","t":"Binary","w":581,"f":0.12},{"c":"C","t":"Binary","w":585,"f":0.1},{"c":"C","t":"Binary","w":590,"f":0.115},{"c":"C","t":"Binary","w":595,"f":0.1},{"c":"C","t":"Binary","w":600,"f":0.11},{"c":"C","t":"Binary","w":604,"f":0.1},{"c":"C","t":"Binary","w":608,"f":0.05},{"c":"C","t":"Binary","w":612,"f":0.11},{"c":"C","t":"Binary","w":616,"f":0.1},{"c":"C","t":"Binary","w":620,"f":0.11},{"c":"C","t":"Binary","w":625,"f":0.06},{"c":"C","t":"Binary","w":630,"f":0.11},{"c":"C","t":"Binary","w":635,"f":0.1},{"c":"C","t":"Binary","w":640,"f":0.11},{"c":"C","t":"Binary","w":645,"f":0.1},{"c":"C","t":"Binary","w":650,"f":0.11},{"c":"C","t":"Binary","w":660,"f":0.105},{"c":"C","t":"Binary","w":670,"f":0.1},{"c":"C","t":"Binary","w":680,"f":0.11},{"c":"C","t":"Binary","w":690,"f":0.105},{"c":"C","t":"Binary","w":700,"f":0.11},{"c":"C","t":"Binary","w":710,"f":0.105},{"c":"C","t":"Binary","w":720,"f":0.105},{"c":"C","t":"Binary","w":730,"f":0.105},{"c":"C","t":"Binary","w":740,"f":0.105},{"c":"C","t":"Binary","w":750,"f":0.1},{"c":"C","t":"Binary","w":756,"f":0.095},{"c":"C","t":"Binary","w":760,"f":0.06},{"c":"C","t":"Binary","w":763,"f":0.03},{"c":"C","t":"Binary","w":766,"f":0.1},{"c":"C","t":"Binary","w":770,"f":0.09},{"c":"C","t":"Binary","w":776,"f":0.1},{"c":"C","t":"Binary","w":781,"f":0.05},{"c":"C","t":"Binary","w":785,"f":0.03},{"c":"C","t":"Binary","w":789,"f":0.09},{"c":"C","t":"Binary","w":793,"f":0.1},{"c":"C","t":"Binary","w":800,"f":0.1},{"c":"C","t":"Binary","w":810,"f":0.1},{"c":"C","t":"Binary","w":820,"f":0.1},{"c":"C","t":"Binary","w":830,"f":0.1},{"c":"C","t":"Binary","w":833,"f":0.08},{"c":"C","t":"Binary","w":837,"f":0.1},{"c":"C","t":"Binary","w":845,"f":0.09},{"c":"C","t":"Binary","w":855,"f":0.1},{"c":"C","t":"Binary","w":870,"f":0.095},{"c":"C","t":"Binary","w":885,"f":0.095},{"c":"C","t":"Binary","w":900,"f":0.095},{"c":"C","t":"Binary","w":912,"f":0.095},{"c":"C","t":"Binary","w":914,"f":0.15},{"c":"C","t":"Binary","w":917,"f":0.1},{"c":"C","t":"Binary","w":920,"f":0.3},{"c":"C","t":"Binary","w":923,"f":0.12},{"c":"C","t":"Binary","w":926,"f":0.25},{"c":"C","t":"Binary","w":929,"f":0.08},{"c":"C","t":"Binary","w":932,"f":0.28},{"c":"C","t":"Binary","w":935,"f":0.15},{"c":"C","t":"Binary","w":938,"f":0.33},{"c":"C","t":"Binary","w":941,"f":0.12},{"c":"C","t":"Binary","w":944,"f":0.2},{"c":"C","t":"Binary","w":947,"f":0.35},{"c":"C","t":"Binary","w":950,"f":0.2},

      {"c":"C","t":"Single","w":110,"f":0.0},{"c":"C","t":"Single","w":228,"f":0.0},{"c":"C","t":"Single","w":235,"f":0.01},{"c":"C","t":"Single","w":240,"f":0.0},{"c":"C","t":"Single","w":245,"f":0.02},{"c":"C","t":"Single","w":250,"f":0.005},{"c":"C","t":"Single","w":255,"f":0.02},{"c":"C","t":"Single","w":260,"f":0.01},{"c":"C","t":"Single","w":265,"f":0.025},{"c":"C","t":"Single","w":270,"f":0.005},{"c":"C","t":"Single","w":275,"f":0.02},{"c":"C","t":"Single","w":280,"f":0.01},{"c":"C","t":"Single","w":285,"f":0.03},{"c":"C","t":"Single","w":290,"f":0.01},{"c":"C","t":"Single","w":295,"f":0.03},{"c":"C","t":"Single","w":300,"f":0.015},{"c":"C","t":"Single","w":305,"f":0.035},{"c":"C","t":"Single","w":310,"f":0.015},{"c":"C","t":"Single","w":315,"f":0.03},{"c":"C","t":"Single","w":320,"f":0.02},{"c":"C","t":"Single","w":325,"f":0.035},{"c":"C","t":"Single","w":330,"f":0.015},{"c":"C","t":"Single","w":335,"f":0.03},{"c":"C","t":"Single","w":340,"f":0.02},{"c":"C","t":"Single","w":345,"f":0.035},{"c":"C","t":"Single","w":350,"f":0.02},{"c":"C","t":"Single","w":360,"f":0.035},{"c":"C","t":"Single","w":370,"f":0.03},{"c":"C","t":"Single","w":380,"f":0.04},{"c":"C","t":"Single","w":390,"f":0.03},{"c":"C","t":"Single","w":400,"f":0.045},{"c":"C","t":"Single","w":410,"f":0.035},{"c":"C","t":"Single","w":420,"f":0.045},{"c":"C","t":"Single","w":430,"f":0.04},{"c":"C","t":"Single","w":440,"f":0.05},{"c":"C","t":"Single","w":450,"f":0.04},{"c":"C","t":"Single","w":460,"f":0.05},{"c":"C","t":"Single","w":470,"f":0.045},{"c":"C","t":"Single","w":480,"f":0.055},{"c":"C","t":"Single","w":490,"f":0.05},{"c":"C","t":"Single","w":500,"f":0.055},{"c":"C","t":"Single","w":508,"f":0.05},{"c":"C","t":"Single","w":511,"f":0.075},{"c":"C","t":"Single","w":515,"f":0.06},{"c":"C","t":"Single","w":520,"f":0.07},{"c":"C","t":"Single","w":525,"f":0.04},{"c":"C","t":"Single","w":530,"f":0.06},{"c":"C","t":"Single","w":535,"f":0.02},{"c":"C","t":"Single","w":540,"f":0.005},{"c":"C","t":"Single","w":545,"f":0.05},{"c":"C","t":"Single","w":550,"f":0.065},{"c":"C","t":"Single","w":555,"f":0.05},{"c":"C","t":"Single","w":560,"f":0.065},{"c":"C","t":"Single","w":565,"f":0.02},{"c":"C","t":"Single","w":570,"f":0.06},{"c":"C","t":"Single","w":575,"f":0.07},{"c":"C","t":"Single","w":580,"f":0.055},{"c":"C","t":"Single","w":585,"f":0.065},{"c":"C","t":"Single","w":590,"f":0.06},{"c":"C","t":"Single","w":600,"f":0.065},{"c":"C","t":"Single","w":608,"f":0.02},{"c":"C","t":"Single","w":612,"f":0.06},{"c":"C","t":"Single","w":620,"f":0.065},{"c":"C","t":"Single","w":625,"f":0.04},{"c":"C","t":"Single","w":630,"f":0.065},{"c":"C","t":"Single","w":640,"f":0.06},{"c":"C","t":"Single","w":650,"f":0.065},{"c":"C","t":"Single","w":660,"f":0.065},{"c":"C","t":"Single","w":670,"f":0.06},{"c":"C","t":"Single","w":680,"f":0.065},{"c":"C","t":"Single","w":700,"f":0.065},{"c":"C","t":"Single","w":720,"f":0.065},{"c":"C","t":"Single","w":740,"f":0.065},{"c":"C","t":"Single","w":756,"f":0.06},{"c":"C","t":"Single","w":760,"f":0.02},{"c":"C","t":"Single","w":763,"f":0.0},{"c":"C","t":"Single","w":766,"f":0.05},{"c":"C","t":"Single","w":772,"f":0.06},{"c":"C","t":"Single","w":780,"f":0.03},{"c":"C","t":"Single","w":785,"f":0.005},{"c":"C","t":"Single","w":789,"f":0.05},{"c":"C","t":"Single","w":795,"f":0.065},{"c":"C","t":"Single","w":805,"f":0.065},{"c":"C","t":"Single","w":820,"f":0.065},{"c":"C","t":"Single","w":833,"f":0.04},{"c":"C","t":"Single","w":837,"f":0.065},{"c":"C","t":"Single","w":850,"f":0.06},{"c":"C","t":"Single","w":870,"f":0.065},{"c":"C","t":"Single","w":890,"f":0.065},{"c":"C","t":"Single","w":912,"f":0.06},{"c":"C","t":"Single","w":915,"f":0.12},{"c":"C","t":"Single","w":918,"f":0.05},{"c":"C","t":"Single","w":921,"f":0.2},{"c":"C","t":"Single","w":924,"f":0.08},{"c":"C","t":"Single","w":927,"f":0.25},{"c":"C","t":"Single","w":930,"f":0.1},{"c":"C","t":"Single","w":933,"f":0.28},{"c":"C","t":"Single","w":936,"f":0.12},{"c":"C","t":"Single","w":939,"f":0.22},{"c":"C","t":"Single","w":942,"f":0.1},{"c":"C","t":"Single","w":945,"f":0.3},{"c":"C","t":"Single","w":950,"f":0.15}
    ],
    "edges": [{"w":227.9},{"w":353.3},{"w":508.2},{"w":912}],
    "labels": [{"w":188,"f":1.6,"s":"He⁺"},{"w":302,"f":1.6,"s":"O⁺⁺"},{"w":555,"f":1.6,"s":"C⁺⁺"},{"w":866,"f":1.2,"s":"H"}],
    "mult": [{"w":100,"f":1.76,"s":"×10⁶"}]
  },
  "layer": [
    {
      "data": {"name": "spec"},
      "mark": {"type": "line", "strokeWidth": 1, "clip": true},
      "encoding": {
        "x": {"field": "w", "type": "quantitative", "scale": {"domain": [100, 950], "nice": false, "zero": false},
              "axis": {"values": [200, 400, 600, 800], "title": "Wavelength (Å)", "titlePadding": 14, "labelFlush": false}},
        "y": {"field": "f", "type": "quantitative", "scale": {"domain": [0, 1.76], "nice": false},
              "axis": {"values": [0, 0.2, 0.4, 0.6, 0.8, 1.0, 1.2, 1.4, 1.6], "format": ".1f", "title": "Flux(L⊙/Å)", "titlePadding": 14, "labelFlush": false}},
        "color": {"field": "c", "type": "nominal", "scale": {"domain": ["A", "B", "C"], "range": ["#17becf", "#ff7f0e", "#d62728"]}, "legend": null},
        "strokeDash": {"field": "t", "type": "nominal", "scale": {"domain": ["Binary", "Single"], "range": [[1, 0], [1.2, 2]]},
          "legend": {"title": null, "orient": "none", "legendX": 316, "legendY": 10, "fillColor": "rgba(255,255,255,0.8)", "strokeColor": "#cccccc", "cornerRadius": 4, "padding": 5, "symbolType": "stroke", "symbolStrokeColor": "black", "symbolStrokeWidth": 1.5, "symbolSize": 1600, "labelFontSize": 20, "labelFont": "Liberation Serif", "labelColor": "black", "rowPadding": -18, "labelOffset": 14}}
      }
    },
    {
      "data": {"name": "edges"},
      "mark": {"type": "rule", "color": "black", "strokeWidth": 3, "strokeDash": [11, 5]},
      "encoding": {"x": {"field": "w", "type": "quantitative"}}
    },
    {
      "data": {"name": "labels"},
      "mark": {"type": "text", "fontSize": 24, "align": "center", "baseline": "alphabetic", "color": "black", "font": "Liberation Serif"},
      "encoding": {"x": {"field": "w", "type": "quantitative"}, "y": {"field": "f", "type": "quantitative"}, "text": {"field": "s"}}
    },
    {
      "data": {"name": "mult"},
      "mark": {"type": "text", "fontSize": 20, "align": "left", "baseline": "alphabetic", "dy": -5, "color": "black", "font": "Liberation Serif", "clip": false},
      "encoding": {"x": {"field": "w", "type": "quantitative"}, "y": {"field": "f", "type": "quantitative"}, "text": {"field": "s"}}
    }
  ]
}
